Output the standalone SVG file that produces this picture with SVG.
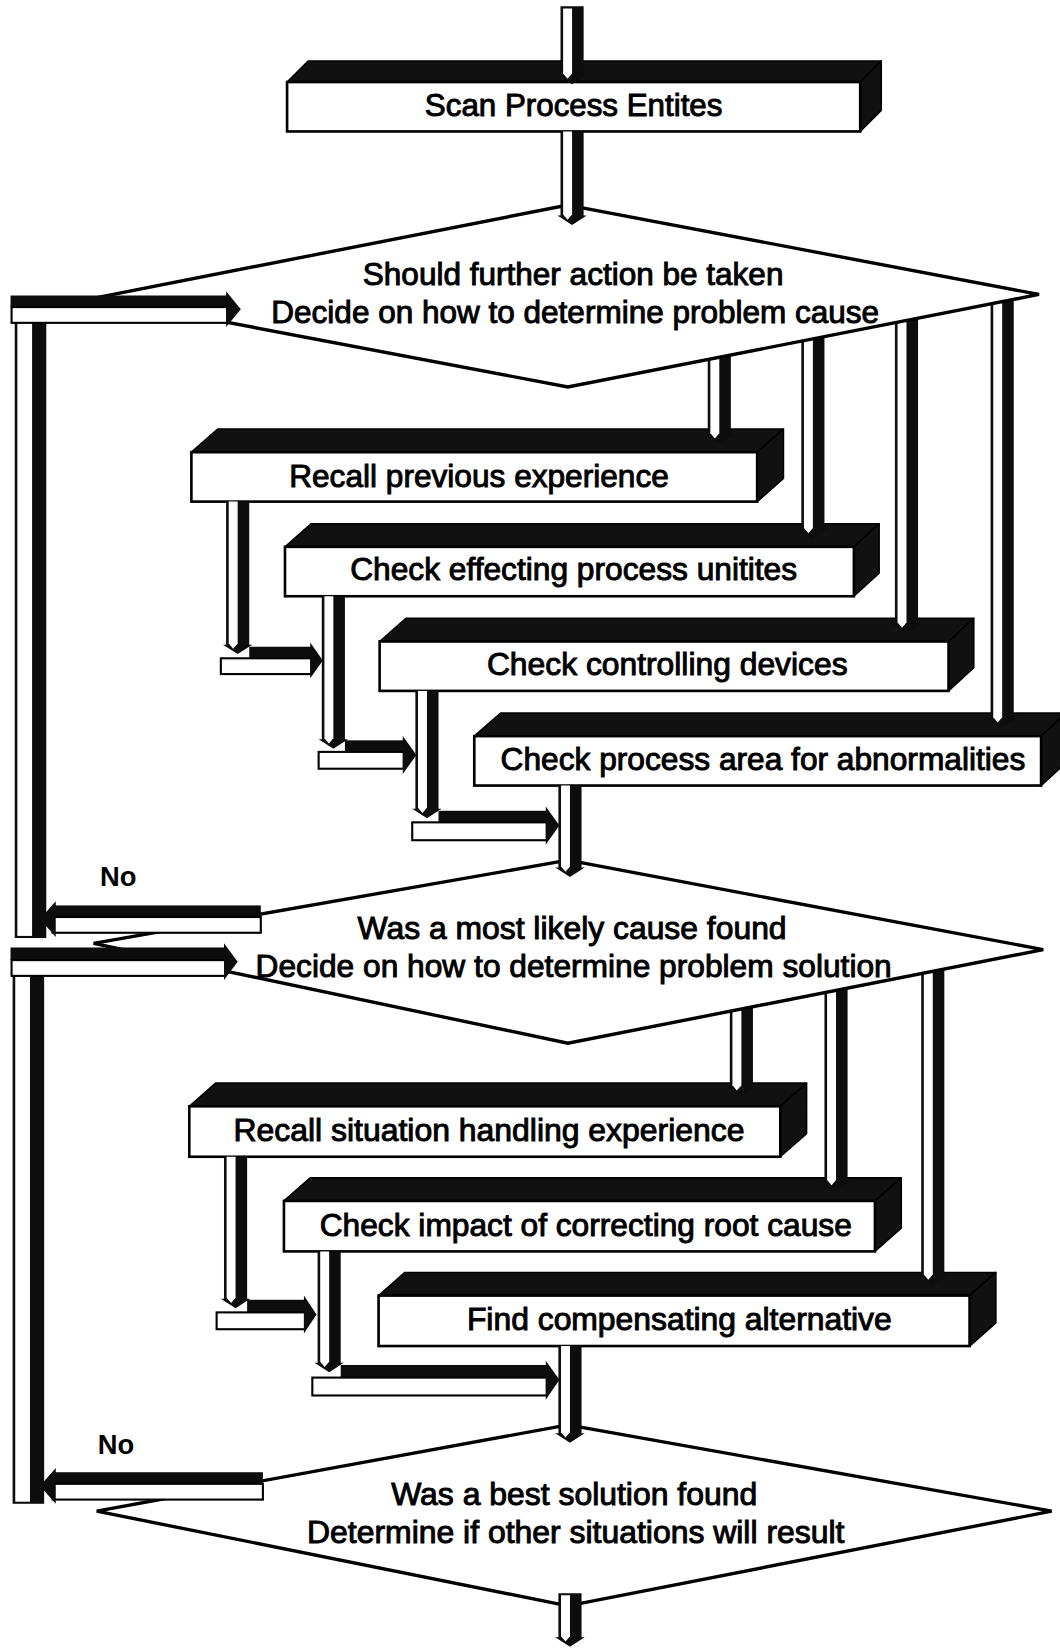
<svg xmlns="http://www.w3.org/2000/svg" width="1060" height="1649" viewBox="0 0 1060 1649">
  <style>
    .face { fill: #fff; stroke: #000; stroke-width: 2.5; }
    .dark { fill: #111; stroke: #000; stroke-width: 1.5; stroke-linejoin: round; }
    .dia { fill: #fff; stroke: #000; stroke-width: 3.2; stroke-linejoin: miter; }
    .pb { fill: #0d0d0d; }
    .pw { fill: #fff; }
    .bar { fill: #fff; stroke: #000; stroke-width: 2; }
    .lbl { font-family: "Liberation Sans", Arial, Helvetica, sans-serif; font-size: 29px; fill: #000; stroke: #000; stroke-width: 0.9; text-anchor: middle; }
    .no { font-family: "Liberation Sans", Arial, Helvetica, sans-serif; font-size: 26px; font-weight: bold; fill: #000; }
  </style>
  <rect width="1060" height="1649" fill="#fff"/>
  <g transform="scale(1.0516)">

    <!-- process boxes (front face + dark top and side faces) -->
    <g id="scan">
      <polygon class="dark" points="273,78 293,58 838,58 818,78"/>
      <polygon class="dark" points="818,78 838,58 838,105 818,125"/>
      <rect class="face" x="273" y="78" width="545" height="47"/>
      <text class="lbl" x="545.5" y="110" textLength="283" lengthAdjust="spacingAndGlyphs">Scan Process Entites</text>
    </g>
    <g id="recall-previous">
      <polygon class="dark" points="182,430 207,408 745,408 720,430"/>
      <polygon class="dark" points="720,430 745,408 745,455 720,477"/>
      <rect class="face" x="182" y="430" width="538" height="47"/>
      <text class="lbl" x="455.5" y="463" textLength="361" lengthAdjust="spacingAndGlyphs">Recall previous experience</text>
    </g>
    <g id="check-entities">
      <polygon class="dark" points="271,520 296,498 836,498 812,520"/>
      <polygon class="dark" points="812,520 836,498 836,545 812,567"/>
      <rect class="face" x="271" y="520" width="541" height="47"/>
      <text class="lbl" x="545.5" y="552" textLength="425" lengthAdjust="spacingAndGlyphs">Check effecting process unitites</text>
    </g>
    <g id="check-devices">
      <polygon class="dark" points="361,610 386,588 926,588 902,610"/>
      <polygon class="dark" points="902,610 926,588 926,635 902,657"/>
      <rect class="face" x="361" y="610" width="541" height="47"/>
      <text class="lbl" x="634.5" y="642" textLength="343" lengthAdjust="spacingAndGlyphs">Check controlling devices</text>
    </g>
    <g id="check-area">
      <polygon class="dark" points="451,700 476,678 1014,678 990,700"/>
      <polygon class="dark" points="990,700 1014,678 1014,725 990,747"/>
      <rect class="face" x="451" y="700" width="539" height="47"/>
      <text class="lbl" x="725.5" y="732" textLength="499" lengthAdjust="spacingAndGlyphs">Check process area for abnormalities</text>
    </g>
    <g id="recall-handling">
      <polygon class="dark" points="180,1052 205,1030 767,1030 742,1052"/>
      <polygon class="dark" points="742,1052 767,1030 767,1078 742,1100"/>
      <rect class="face" x="180" y="1052" width="562" height="48"/>
      <text class="lbl" x="465" y="1085" textLength="486" lengthAdjust="spacingAndGlyphs">Recall situation handling experience</text>
    </g>
    <g id="check-impact">
      <polygon class="dark" points="270,1142 295,1120 857,1120 832,1142"/>
      <polygon class="dark" points="832,1142 857,1120 857,1168 832,1190"/>
      <rect class="face" x="270" y="1142" width="562" height="48"/>
      <text class="lbl" x="557" y="1175" textLength="506" lengthAdjust="spacingAndGlyphs">Check impact of correcting root cause</text>
    </g>
    <g id="find-alternative">
      <polygon class="dark" points="360,1232 385,1210 947,1210 922,1232"/>
      <polygon class="dark" points="922,1232 947,1210 947,1258 922,1280"/>
      <rect class="face" x="360" y="1232" width="562" height="48"/>
      <text class="lbl" x="646" y="1265" textLength="404" lengthAdjust="spacingAndGlyphs">Find compensating alternative</text>
    </g>

    <!-- branch pipes leaving the lower edge of each decision -->
    <g id="connectors-branches">
      <path class="pb" d="M673 330 H695 V413 H698 L684 422 L670 413 H673 Z"/>
      <path class="pw" d="M675.5 330 H684 V412 L679.75 417 L675.5 412 Z"/>
      <path class="pb" d="M762 310 H784 V503 H787 L773 512 L759 503 H762 Z"/>
      <path class="pw" d="M764.5 310 H773 V502 L768.75 507 L764.5 502 Z"/>
      <path class="pb" d="M851 295 H873 V593 H876 L862 602 L848 593 H851 Z"/>
      <path class="pw" d="M853.5 295 H862 V592 L857.75 597 L853.5 592 Z"/>
      <path class="pb" d="M942 278 H964 V683 H967 L953 692 L939 683 H942 Z"/>
      <path class="pw" d="M944.5 278 H953 V682 L948.75 687 L944.5 682 Z"/>

      <path class="pb" d="M694 950 H716 V1033 H719 L705 1042 L691 1033 H694 Z"/>
      <path class="pw" d="M696.5 950 H705 V1032 L700.75 1037 L696.5 1032 Z"/>
      <path class="pb" d="M784 930 H806 V1123 H809 L795 1132 L781 1123 H784 Z"/>
      <path class="pw" d="M786.5 930 H795 V1122 L790.75 1127 L786.5 1122 Z"/>
      <path class="pb" d="M876 912 H898 V1213 H901 L887 1222 L873 1213 H876 Z"/>
      <path class="pw" d="M878.5 912 H887 V1212 L882.75 1217 L878.5 1212 Z"/>
    </g>

    <!-- decisions -->
    <g id="decide-cause">
      <polygon class="dia" points="540,195 988,280 540,368 92,283"/>
      <text class="lbl" x="545" y="271" textLength="400" lengthAdjust="spacingAndGlyphs">Should further action be taken</text>
      <text class="lbl" x="547" y="307" textLength="578" lengthAdjust="spacingAndGlyphs">Decide on how to determine problem cause</text>
    </g>
    <g id="decide-solution">
      <polygon class="dia" points="540,818 992,903 540,992 89,897"/>
      <text class="lbl" x="544" y="893" textLength="408" lengthAdjust="spacingAndGlyphs">Was a most likely cause found</text>
      <text class="lbl" x="545.5" y="929" textLength="605" lengthAdjust="spacingAndGlyphs">Decide on how to determine problem solution</text>
    </g>
    <g id="best-solution">
      <polygon class="dia" points="540,1355 1000,1437 540,1527 92,1437"/>
      <text class="lbl" x="546" y="1431" textLength="348" lengthAdjust="spacingAndGlyphs">Was a best solution found</text>
      <text class="lbl" x="547.5" y="1467" textLength="511" lengthAdjust="spacingAndGlyphs">Determine if other situations will result</text>
    </g>

    <!-- flow pipes, cascades and loop-backs -->
    <g id="connectors">
      <!-- main trunk -->
      <path class="pb" d="M533 6 H555 V71 H558 L544 80 L530 71 H533 Z"/>
      <path class="pw" d="M535.5 8 H544 V70 L539.75 75 L535.5 70 Z"/>
      <path class="pb" d="M533 125 H555 V205 H558 L544 214 L530 205 H533 Z"/>
      <path class="pw" d="M535.5 125 H544 V204 L539.75 209 L535.5 204 Z"/>
      <path class="pb" d="M531 747 H553 V825 H556 L542 834 L528 825 H531 Z"/>
      <path class="pw" d="M533.5 747 H542 V824 L537.75 829 L533.5 824 Z"/>
      <path class="pb" d="M531 1280 H553 V1363 H556 L542 1372 L528 1363 H531 Z"/>
      <path class="pw" d="M533.5 1280 H542 V1362 L537.75 1367 L533.5 1362 Z"/>
      <path class="pb" d="M531 1515 H553 V1557 H556 L542 1566 L528 1557 H531 Z"/>
      <path class="pw" d="M533.5 1517 H542 V1556 L537.75 1561 L533.5 1556 Z"/>

      <!-- cascade under the cause checks -->
      <rect class="pb" x="237" y="615" width="60" height="11"/>
      <rect class="bar" x="210" y="626" width="86" height="15"/>
      <polygon class="pb" points="295,611 307,628 295,645"/>
      <path class="pb" d="M215 477 H237 V613 H240 L226 622 L212 613 H215 Z"/>
      <path class="pw" d="M217.5 477 H226 V612 L221.75 617 L217.5 612 Z"/>

      <rect class="pb" x="328" y="704" width="57" height="11"/>
      <rect class="bar" x="303" y="715" width="81" height="16"/>
      <polygon class="pb" points="383,700 396,718 383,736"/>
      <path class="pb" d="M306 567 H328 V703 H331 L317 712 L303 703 H306 Z"/>
      <path class="pw" d="M308.5 567 H317 V702 L312.75 707 L308.5 702 Z"/>

      <rect class="pb" x="417" y="771" width="104" height="11"/>
      <rect class="bar" x="392" y="782" width="128" height="17"/>
      <polygon class="pb" points="519,767 532,785 519,803"/>
      <path class="pb" d="M395 657 H417 V769 H420 L406 778 L392 769 H395 Z"/>
      <path class="pw" d="M397.5 657 H406 V768 L401.75 773 L397.5 768 Z"/>

      <!-- cascade under the solution checks -->
      <rect class="pb" x="235" y="1236" width="56" height="12"/>
      <rect class="bar" x="206" y="1248" width="84" height="16"/>
      <polygon class="pb" points="289,1232 301,1250 289,1268"/>
      <path class="pb" d="M213 1100 H235 V1235 H238 L224 1244 L210 1235 H213 Z"/>
      <path class="pw" d="M215.5 1100 H224 V1234 L219.75 1239 L215.5 1234 Z"/>

      <rect class="pb" x="324" y="1298" width="197" height="12"/>
      <rect class="bar" x="297" y="1310" width="223" height="17"/>
      <polygon class="pb" points="519,1294 532,1312 519,1331"/>
      <path class="pb" d="M302 1190 H324 V1296 H327 L313 1305 L299 1296 H302 Z"/>
      <path class="pw" d="M304.5 1190 H313 V1295 L308.75 1300 L304.5 1295 Z"/>

      <!-- loop back to cause decision -->
      <rect class="pb" x="14" y="305" width="30" height="587"/>
      <rect class="pw" x="16.5" y="307" width="14" height="583"/>
      <rect class="pb" x="10" y="281" width="206" height="11"/>
      <rect class="bar" x="11" y="292" width="205" height="15"/>
      <polygon class="pb" points="215,277 229,294 215,311"/>
      <rect class="pb" x="50" y="861" width="198" height="11"/>
      <rect class="bar" x="50" y="872" width="198" height="15"/>
      <polygon class="pb" points="53,857 38,874 53,891"/>
      <text class="no" x="95" y="843">No</text>

      <!-- loop back to solution decision -->
      <rect class="pb" x="12" y="926" width="30" height="504"/>
      <rect class="pw" x="14.5" y="928" width="14" height="500"/>
      <rect class="pb" x="10" y="901" width="204" height="12"/>
      <rect class="bar" x="11" y="913" width="203" height="15"/>
      <polygon class="pb" points="213,897 226,914.5 213,932"/>
      <rect class="pb" x="50" y="1400" width="200" height="11"/>
      <rect class="bar" x="50" y="1411" width="200" height="15"/>
      <polygon class="pb" points="53,1396 38,1413 53,1430"/>
      <text class="no" x="93" y="1383">No</text>
    </g>
  </g>
</svg>
